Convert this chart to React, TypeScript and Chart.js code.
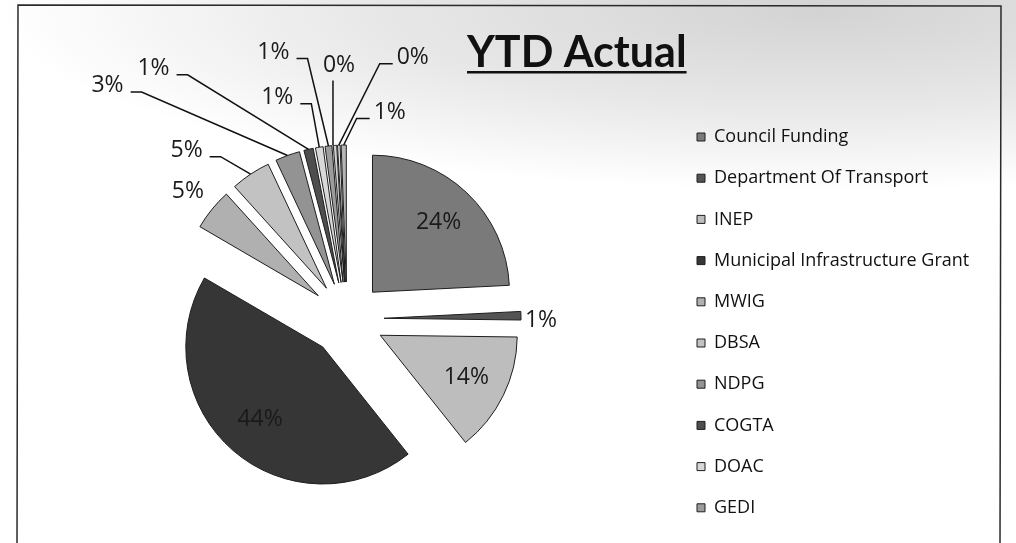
import React, { useEffect, useRef } from "react";
import { Chart, registerables } from "chart.js";

Chart.register(...registerables);

// ---------------- data ----------------
const categories = [
  "Council Funding",
  "Department Of Transport",
  "INEP",
  "Municipal Infrastructure Grant",
  "MWIG",
  "DBSA",
  "NDPG",
  "COGTA",
  "DOAC",
  "GEDI",
  "Other 1",
  "Other 2",
  "Other 3",
];
const values = [24.2, 1.0, 14.1, 44.1, 4.9, 4.7, 2.9, 1.1, 0.9, 0.8, 0.4, 0.3, 0.6];
const legendCount = 10; // the reference legend lists the first ten categories
const titleText = "YTD Actual";

// ---------------- styles ----------------
const sliceColors = [
  "#7a7a7a",
  "#545454",
  "#bdbdbd",
  "#363636",
  "#b0b0b0",
  "#c2c2c2",
  "#939393",
  "#4e4e4e",
  "#d8d8d8",
  "#9c9c9c",
  "#d0d0d0",
  "#e0e0e0",
  "#b6b6b6",
];

const W = 1016;
const H = 543;
const PIE_CX = 347;
const PIE_CY = 319;
const PIE_RADIUS = 137;
const EXPLODE = 37;
const LEGEND_BOX_X = 697;
const LEGEND_FONT = 18;
const LEGEND_PAD = 23.2;
const LEGEND_BOX = 8;
const LEGEND_FIRST_Y = 137;
const FONT = "'Open Sans'";

// label placement per slice: inside fraction, or offset from the slice's outer edge midpoint
type Lay = { inside?: number; dx?: number; dy?: number; leader?: "left" | "right" | "down" | "none" };
const labelLayout: Lay[] = [
  { inside: 0.7 },
  { dx: 20, dy: 5, leader: "none" },
  { inside: 0.7 },
  { inside: 0.7 },
  { dx: -24, dy: -18, leader: "none" },
  { dx: -64, dy: -24, leader: "left" },
  { dx: -180, dy: -70, leader: "left" },
  { dx: -155, dy: -81, leader: "left" },
  { dx: -42, dy: -50, leader: "left" },
  { dx: -55, dy: -94, leader: "left" },
  { dx: 4, dy: -80, leader: "down" },
  { dx: 74, dy: -88, leader: "right" },
  { dx: 46, dy: -33, leader: "right" },
];

const backgroundPlugin = {
  id: "bgFrame",
  beforeDraw(chart: any) {
    const ctx: CanvasRenderingContext2D = chart.ctx;
    ctx.save();
    ctx.fillStyle = "#ffffff";
    ctx.fillRect(0, 0, chart.width, chart.height);
    // scanned grey haze across the top
    ctx.save();
    ctx.translate(820, 10);
    ctx.scale(1, 0.22);
    const g = ctx.createRadialGradient(0, 0, 0, 0, 0, 820);
    g.addColorStop(0, "rgba(150,150,150,0.42)");
    g.addColorStop(0.55, "rgba(150,150,150,0.22)");
    g.addColorStop(1, "rgba(150,150,150,0)");
    ctx.fillStyle = g;
    ctx.fillRect(-820, -60, 1640, 900);
    ctx.restore();
    // frame
    ctx.strokeStyle = "#2a2a2a";
    ctx.lineWidth = 1.5;
    ctx.beginPath();
    ctx.moveTo(17, H + 5);
    ctx.lineTo(18, 5);
    ctx.lineTo(1001, 6);
    ctx.lineTo(1000, H + 5);
    ctx.stroke();
    ctx.restore();
  },
};

const explodePlugin = {
  id: "explode",
  beforeDatasetsDraw(chart: any) {
    const ctx = chart.ctx;
    const meta = chart.getDatasetMeta(0);
    meta.data.forEach((arc: any) => {
      const mid = (arc.startAngle + arc.endAngle) / 2;
      ctx.save();
      ctx.translate(Math.cos(mid) * EXPLODE, Math.sin(mid) * EXPLODE);
      arc.draw(ctx);
      ctx.restore();
    });
    return false;
  },
};

const labelPlugin = {
  id: "pctLabels",
  afterDraw(chart: any) {
    const ctx: CanvasRenderingContext2D = chart.ctx;
    const meta = chart.getDatasetMeta(0);
    const data: number[] = chart.data.datasets[0].data;
    const total = data.reduce((a, b) => a + b, 0);
    ctx.save();
    ctx.font = `23px ${FONT}`;
    ctx.textAlign = "center";
    ctx.textBaseline = "middle";
    meta.data.forEach((arc: any, i: number) => {
      const lay = labelLayout[i];
      const mid = (arc.startAngle + arc.endAngle) / 2;
      const ux = Math.cos(mid);
      const uy = Math.sin(mid);
      const ax = arc.x + ux * EXPLODE;
      const ay = arc.y + uy * EXPLODE;
      const r = arc.outerRadius;
      const txt = Math.round((data[i] / total) * 100) + "%";
      let tx: number;
      let ty: number;
      if (lay.inside !== undefined) {
        tx = ax + ux * r * lay.inside;
        ty = ay + uy * r * lay.inside;
      } else {
        const ex = ax + ux * r;
        const ey = ay + uy * r;
        tx = ex + (lay.dx || 0);
        ty = ey + (lay.dy || 0);
        const w = ctx.measureText(txt).width;
        ctx.strokeStyle = "#111";
        ctx.lineWidth = 1.5;
        ctx.beginPath();
        if (lay.leader === "left") {
          const x0 = tx + w / 2 + 7;
          const y0 = ty + 6.5;
          ctx.moveTo(x0, y0);
          ctx.lineTo(x0 + 11, y0);
          ctx.lineTo(ex, ey);
        } else if (lay.leader === "right") {
          const x0 = tx - w / 2 - 4;
          const y0 = ty + 6.5;
          ctx.moveTo(x0, y0);
          ctx.lineTo(x0 - 13, y0);
          ctx.lineTo(ex, ey);
        } else if (lay.leader === "down") {
          ctx.moveTo(ex - 2, ty + 15);
          ctx.lineTo(ex - 2, ey);
        }
        ctx.stroke();
      }
      ctx.fillStyle = "#1a1a1a";
      ctx.fillText(txt, tx, ty);
    });
    // title
    ctx.font = `bold 43px Lato`;
    ctx.textAlign = "left";
    ctx.textBaseline = "alphabetic";
    ctx.fillStyle = "#111";
    const tw = ctx.measureText(titleText).width;
    const tx0 = 467;
    ctx.fillText(titleText, tx0, 67);
    ctx.fillRect(tx0, 71, tw, 2.5);
    ctx.restore();
  },
};

function legendWidth(): number {
  const c = document.createElement("canvas").getContext("2d")!;
  c.font = `${LEGEND_FONT}px ${FONT}`;
  let m = 0;
  categories.slice(0, legendCount).forEach((t) => {
    m = Math.max(m, c.measureText(t).width);
  });
  return LEGEND_PAD + (LEGEND_BOX + LEGEND_FONT / 2 + m) + 10;
}

export default function App() {
  const ref = useRef<HTMLCanvasElement | null>(null);

  useEffect(() => {
    document.body.style.margin = "0";
    if (!ref.current) return;
    const legendLeft = LEGEND_BOX_X - LEGEND_PAD;
    const lw = legendWidth();
    const padRight = W - legendLeft - lw;
    const padLeft = 2 * PIE_CX - legendLeft;
    const padTop = 2 * PIE_CY - H;

    Chart.defaults.font.family = FONT;
    const chart = new Chart(ref.current, {
      type: "pie",
      data: {
        labels: categories,
        datasets: [
          {
            data: values,
            backgroundColor: sliceColors,
            borderColor: "#1e1e1e",
            borderWidth: 1,
            radius: PIE_RADIUS,
          } as any,
        ],
      },
      options: {
        responsive: false,
        animation: false,
        devicePixelRatio: 1,
        radius: PIE_RADIUS,
        layout: { padding: { left: padLeft, right: padRight, top: padTop, bottom: 0 } },
        plugins: {
          tooltip: { enabled: false },
          title: { display: false },
          legend: {
            display: true,
            position: "right",
            align: "start",
            title: {
              display: true,
              text: "",
              padding: {
                top: LEGEND_FIRST_Y - (padTop + LEGEND_PAD + LEGEND_FONT / 2) - 1.2,
                bottom: 0,
              },
              font: { size: 1, lineHeight: 1.2 },
            },
            labels: {
              boxWidth: LEGEND_BOX,
              boxHeight: LEGEND_BOX,
              padding: LEGEND_PAD,
              color: "#111",
              font: { size: LEGEND_FONT, family: FONT },
              filter: (item: any) => item.index < legendCount,
            },
          },
        },
      } as any,
      plugins: [backgroundPlugin, explodePlugin, labelPlugin],
    });
    return () => chart.destroy();
  }, []);

  return (
    <div style={{ position: "absolute", left: 0, top: 0, width: W, height: H }}>
      <canvas ref={ref} width={W} height={H} style={{ display: "block" }} />
    </div>
  );
}
